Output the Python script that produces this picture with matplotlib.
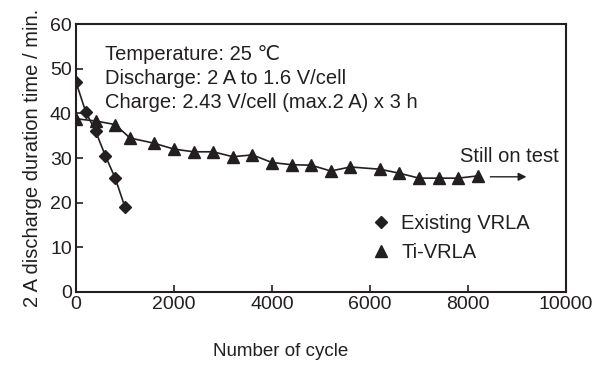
import matplotlib
matplotlib.use("Agg")
import matplotlib.pyplot as plt

plt.rcParams['font.family'] = ['Liberation Sans', 'DejaVu Sans']
ink = '#231f20'

# Existing VRLA
old_cycles = [0, 200, 400, 600, 800, 1000]
old_minutes = [47, 40.3, 36, 30.5, 25.5, 19]

# Ti-VRLA
ti_cycles = [0, 400, 800, 1100, 1600, 2000, 2400, 2800, 3200, 3600, 4000,
             4400, 4800, 5200, 5600, 6200, 6600, 7000, 7400, 7800, 8200]
ti_minutes = [38.8, 38.3, 37.5, 34.5, 33.3, 32, 31.4, 31.4, 30.3, 30.7, 29,
              28.5, 28.4, 27.1, 28, 27.5, 26.6, 25.5, 25.5, 25.5, 26]

fig = plt.figure(figsize=(5.97, 3.65), dpi=100)
ax = fig.add_axes([0.1273, 0.2, 0.8207, 0.734])

ax.plot(old_cycles, old_minutes, color=ink, lw=1.2, marker='D', ms=6,
        label='Existing VRLA')
ax.plot(ti_cycles, ti_minutes, color=ink, lw=1.2, marker='^', ms=8,
        label='Ti-VRLA')

ax.set_xlim(0, 10000)
ax.set_ylim(0, 60)
ax.set_xticks([0, 2000, 4000, 6000, 8000, 10000])
ax.set_yticks([0, 10, 20, 30, 40, 50, 60])
ax.tick_params(direction='in', labelsize=14, length=5, width=1.2, pad=3,
               colors=ink)
for s in ax.spines.values():
    s.set_linewidth(1.5)
    s.set_color(ink)

ax.set_ylabel('2 A discharge duration time / min.', fontsize=14.5,
              labelpad=6, color=ink)
fig.text(0.47, 0.025, 'Number of cycle', fontsize=13.5, ha='center',
         color=ink)

ax.text(600, 47.8, 'Temperature: 25 \u2103\nDischarge: 2 A to 1.6 V/cell\n'
        'Charge: 2.43 V/cell (max.2 A) x 3 h', fontsize=14.5, va='center',
        linespacing=1.32, color=ink)

ax.text(9850, 30.3, 'Still on test', fontsize=14.5, ha='right', va='center',
        color=ink)
ax.annotate('', xy=(9250, 25.8), xytext=(8400, 25.8),
            arrowprops=dict(arrowstyle='-|>', color=ink, lw=1,
                            mutation_scale=12))

leg = ax.legend(loc='center left', bbox_to_anchor=(0.565, 0.203),
                frameon=False, fontsize=14.5, handlelength=1.0,
                handletextpad=0.5, labelspacing=0.5, labelcolor=ink)
for h in leg.get_lines():
    h.set_linestyle('none')

fig.savefig('out.png', dpi=100)
